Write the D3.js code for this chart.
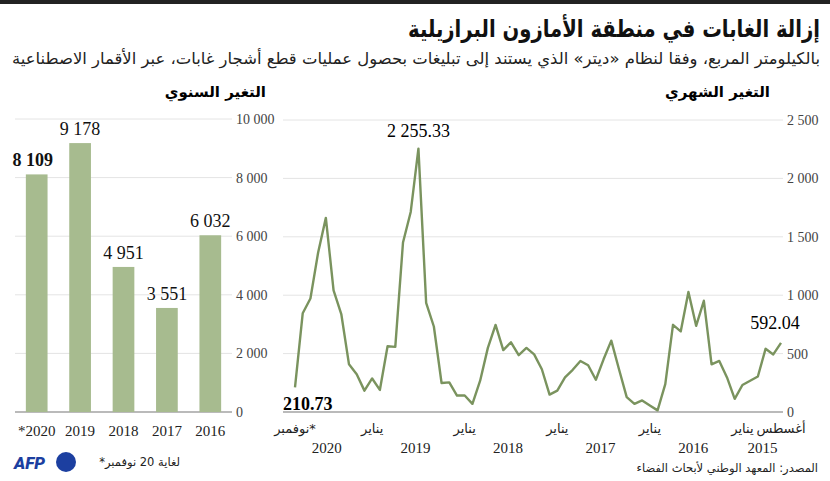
<!DOCTYPE html>
<html><head><meta charset="utf-8">
<script src="https://cdn.jsdelivr.net/npm/d3@7"></script>
<style>
body{margin:0;background:#fff}
.ar{font-family:"DejaVu Sans",sans-serif}
.num{font-family:"Liberation Serif","DejaVu Serif",serif}
</style></head>
<body><div id="chart"></div>
<script>
// annual totals (km2)
const years = ['*2020', '2019', '2018', '2017', '2016'];
const yearly = [8109, 9178, 4951, 3551, 6032];
const barTicks = [0, 2000, 4000, 6000, 8000, 10000];

// monthly values, Aug 2015 -> Nov 2020
const monthly = [592.04, 493, 541, 304, 268, 231, 113, 296, 437, 408, 952, 738, 1028, 690, 746, 239,
    14, 56, 99, 70, 127, 366, 611, 451, 276, 400, 437, 361, 296, 183, 149, 366,
    493, 549, 487, 597, 530, 746, 549, 268, 70, 141, 141, 254, 248, 732, 935, 2255.33,
    1713, 1451, 558, 563, 189, 287, 183, 324, 408, 839, 1042, 1662, 1366, 972, 845, 210.73];
const lineTicks = [0, 500, 1000, 1500, 2000, 2500];
const monthLabels = [['أغسطس', 0], ['يناير', 5], ['يناير', 17], ['يناير', 29], ['يناير', 41], ['يناير', 53], ['نوفمبر*', 63]];
const yearLabels = [['2015', 2], ['2016', 11], ['2017', 23], ['2018', 35], ['2019', 47], ['2020', 58.5]];

const W = 830, H = 481;
const svg = d3.select('#chart').append('svg').attr('width', W).attr('height', H);

svg.append('rect').attr('width', W).attr('height', 4).attr('fill', '#222');

svg.append('text').attr('class', 'ar').attr('x', 820).attr('y', 37).attr('text-anchor', 'end')
    .attr('font-size', 24).attr('font-weight', 'bold').attr('fill', '#111')
    .attr('textLength', 412).attr('lengthAdjust', 'spacingAndGlyphs')
    .text('إزالة الغابات في منطقة الأمازون البرازيلية');
svg.append('text').attr('class', 'ar').attr('x', 820).attr('y', 64).attr('text-anchor', 'end')
    .attr('font-size', 16).attr('fill', '#222')
    .attr('textLength', 808).attr('lengthAdjust', 'spacingAndGlyphs')
    .text('بالكيلومتر المربع، وفقا لنظام «ديتر» الذي يستند إلى تبليغات بحصول عمليات قطع أشجار غابات، عبر الأقمار الاصطناعية');
svg.append('text').attr('class', 'ar').attr('x', 770).attr('y', 97).attr('text-anchor', 'end')
    .attr('font-size', 15).attr('font-weight', 'bold').text('التغير الشهري');
svg.append('text').attr('class', 'ar').attr('x', 266).attr('y', 97).attr('text-anchor', 'end')
    .attr('font-size', 15).attr('font-weight', 'bold').text('التغير السنوي');

// ---- bar chart
const yb = d3.scaleLinear().domain([0, 10000]).range([412, 119]);
const xb = d3.scaleBand().domain(years).range([15, 232]).paddingInner(0.5).paddingOuter(0.25);
const gb = svg.append('g');
gb.selectAll('.grid').data(barTicks).enter().append('line')
    .attr('x1', 15).attr('x2', 232).attr('y1', d => yb(d)).attr('y2', d => yb(d))
    .attr('stroke', d => d === 0 ? '#777' : '#e4e4e4').attr('stroke-width', d => d === 0 ? 1.2 : 1);
gb.selectAll('.tl').data(barTicks).enter().append('text').attr('class', 'num')
    .attr('x', 236).attr('y', d => yb(d) + 5).attr('font-size', 14).attr('fill', '#444')
    .text(d => d3.format(',')(d).replace(',', ' '));
gb.selectAll('rect.bar').data(yearly).enter().append('rect')
    .attr('x', (d, i) => xb(years[i])).attr('width', xb.bandwidth())
    .attr('y', d => yb(d)).attr('height', d => yb(0) - yb(d)).attr('fill', '#a7bb8f');
gb.selectAll('.bl').data(yearly).enter().append('text').attr('class', 'num')
    .attr('x', (d, i) => xb(years[i]) + xb.bandwidth() / 2 + (i === 0 ? -4 : 0)).attr('y', d => yb(d) - 8)
    .attr('text-anchor', 'middle').attr('font-size', 18).attr('font-weight', (d, i) => i === 0 ? 'bold' : 'normal')
    .attr('fill', '#111').text(d => d3.format(',')(d).replace(',', ' '));
gb.selectAll('.yl').data(years).enter().append('text').attr('class', 'num')
    .attr('x', d => xb(d) + xb.bandwidth() / 2).attr('y', 436).attr('text-anchor', 'middle')
    .attr('font-size', 15).attr('fill', '#222').text(d => d);

// ---- line chart (time runs right to left)
const yl = d3.scaleLinear().domain([0, 2500]).range([412, 120]);
const xl = d3.scaleLinear().domain([0, monthly.length - 1]).range([781, 295]);
const gl = svg.append('g');
gl.selectAll('.grid').data(lineTicks).enter().append('line')
    .attr('x1', 283).attr('x2', 783).attr('y1', d => yl(d)).attr('y2', d => yl(d))
    .attr('stroke', d => d === 0 ? '#777' : '#e4e4e4').attr('stroke-width', d => d === 0 ? 1.2 : 1);
gl.selectAll('.tl').data(lineTicks).enter().append('text').attr('class', 'num')
    .attr('x', 787).attr('y', d => yl(d) + 5).attr('font-size', 14).attr('fill', '#444')
    .text(d => d3.format(',')(d).replace(',', ' '));
gl.append('path').datum(monthly)
    .attr('d', d3.line().x((d, i) => xl(i)).y(d => yl(d)))
    .attr('fill', 'none').attr('stroke', '#7a935e').attr('stroke-width', 2.4).attr('stroke-linejoin', 'round');

const peak = monthly.indexOf(d3.max(monthly));
gl.append('text').attr('class', 'num').attr('x', xl(peak)).attr('y', yl(monthly[peak]) - 12)
    .attr('text-anchor', 'middle').attr('font-size', 18).text('2 255.33');
gl.append('text').attr('class', 'num').attr('x', xl(0) - 6).attr('y', yl(monthly[0]) - 14)
    .attr('text-anchor', 'middle').attr('font-size', 18).text('592.04');
gl.append('text').attr('class', 'num').attr('x', xl(monthly.length - 1) - 12).attr('y', 410)
    .attr('font-size', 18).attr('font-weight', 'bold').text('210.73');

gl.selectAll('.ml').data(monthLabels).enter().append('text').attr('class', 'ar')
    .attr('x', d => xl(d[1])).attr('y', 433).attr('text-anchor', 'middle')
    .attr('font-size', 13).attr('fill', '#222').text(d => d[0]);
gl.selectAll('.yr').data(yearLabels).enter().append('text').attr('class', 'num')
    .attr('x', d => xl(d[1]) - 3).attr('y', 453).attr('text-anchor', 'middle')
    .attr('font-size', 15).attr('fill', '#222').text(d => d[0]);

svg.append('text').attr('class', 'ar').attr('x', 818).attr('y', 472).attr('text-anchor', 'end')
    .attr('font-size', 11.5).attr('fill', '#222').text('المصدر: المعهد الوطني لأبحاث الفضاء');
svg.append('text').attr('class', 'ar').attr('x', 180).attr('y', 466).attr('text-anchor', 'end')
    .attr('font-size', 11.5).attr('fill', '#222').text('*لغاية 20 نوفمبر');

// AFP logo
svg.append('text').attr('x', 14).attr('y', 469).attr('font-family', 'Roboto, sans-serif')
    .attr('font-size', 17).attr('font-weight', 900).attr('font-style', 'italic').attr('fill', '#1c3fa0').text('AFP');
svg.append('circle').attr('cx', 66).attr('cy', 462).attr('r', 10).attr('fill', '#1c3fa0');
</script></body></html>
